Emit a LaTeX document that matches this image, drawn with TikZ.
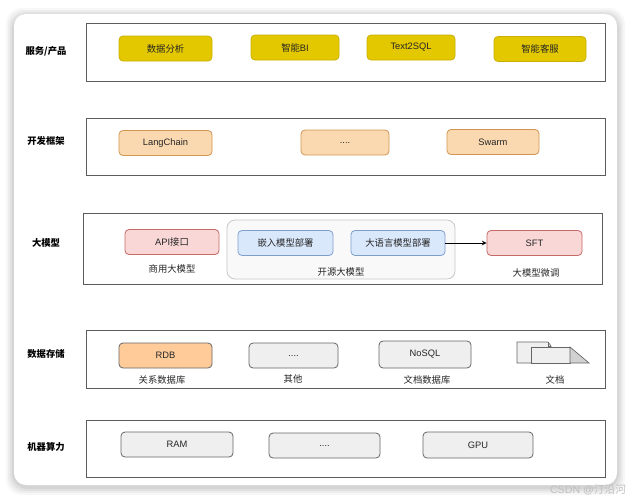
\documentclass[tikz,border=0pt]{standalone}
\usepackage{fontspec}
\setmainfont{Liberation Sans}
\newfontfamily\cjk{Noto Sans CJK SC}
\usepackage{tikz}
\usetikzlibrary{arrows}

\definecolor{cardline}{HTML}{E6E6E6}
\definecolor{layerline}{HTML}{5C5C5C}
\definecolor{yellowfill}{HTML}{E3C800}
\definecolor{yellowline}{HTML}{C9B000}
\definecolor{orangefill}{HTML}{FAD9B0}
\definecolor{orangeline}{HTML}{D19552}
\definecolor{rdbfill}{HTML}{FFCC99}
\definecolor{redfill}{HTML}{F8D7D6}
\definecolor{redline}{HTML}{C46B67}
\definecolor{bluefill}{HTML}{DAE8FC}
\definecolor{blueline}{HTML}{7F9FCB}
\definecolor{grayfill}{HTML}{EFEFEF}
\definecolor{grayline}{HTML}{666666}
\definecolor{groupfill}{HTML}{F9F9F9}
\definecolor{groupline}{HTML}{C8C8C8}

\newcommand{\zh}[1]{{\cjk #1}}

\begin{document}
\begin{tikzpicture}[x=0.75pt, y=-0.75pt, font=\fontsize{7}{8}\selectfont,
		layerbox/.style={draw=layerline, line width=0.75pt, fill=white, minimum height=#1*0.75pt, minimum width=519*0.75pt, inner sep=0pt},
		itembox/.style={rounded corners=3pt, line width=0.6pt, minimum height=25*0.75pt, inner sep=0pt, text=black!85},
		servicebox/.style={itembox, draw=yellowline, fill=yellowfill},
		frameworkbox/.style={itembox, draw=orangeline, fill=orangefill},
		apibox/.style={itembox, draw=redline, fill=redfill},
		deploybox/.style={itembox, draw=blueline, fill=bluefill},
		storebox/.style={itembox, draw=grayline, fill=grayfill},
		layername/.style={font=\fontsize{7}{8}\selectfont\cjk\bfseries},
		caption/.style={font=\fontsize{7}{8}\selectfont\cjk, text=black!85}]
			\useasboundingbox (0,0) rectangle (631,500);

			% card with its shadow
			\foreach \s/\o in {8/0.03,6/0.04,4/0.05,2/0.06}
			{
				\fill [black, opacity=\o, rounded corners=12pt] (14-\s,14-\s+2) rectangle (617+\s,485+\s+2);
			}
			\fill [white, rounded corners=9pt] (14,14) rectangle (617,485);

			% layers
			\node [layerbox=58] (services layer) at (345.5,52) {};
			\node [layerbox=57] (framework layer) at (345.5,146.5) {};
			\node [layerbox=71] (model layer) at (342.5,248.5) {};
			\node [layerbox=58] (storage layer) at (345.5,359) {};
			\node [layerbox=57] (compute layer) at (345.5,448.5) {};

			\node [layername] (services name) at (46,51) {服务/产品};
			\node [layername] (framework name) at (46,141) {开发框架};
			\node [layername] (model name) at (46,243) {大模型};
			\node [layername] (storage name) at (46,354) {数据存储};
			\node [layername] (compute name) at (46,447) {机器算力};

			% services
			\node [servicebox, minimum width=93*0.75pt] (analysis) at (165.5,48.5) {\zh{数据分析}};
			\node [servicebox, minimum width=88*0.75pt] (bi) at (295,47.5) {\zh{智能}BI};
			\node [servicebox, minimum width=88*0.75pt] (text2sql) at (411,47.5) {Text2SQL};
			\node [servicebox, minimum width=92*0.75pt] (service desk) at (540,49) {\zh{智能客服}};

			% frameworks
			\node [frameworkbox, minimum width=93*0.75pt] (langchain) at (165.5,143) {LangChain};
			\node [frameworkbox, minimum width=88*0.75pt] (other framework) at (345,142.5) {....};
			\node [frameworkbox, minimum width=92*0.75pt] (swarm) at (493,142) {Swarm};

			% models
			\node [draw=groupline, fill=groupfill, rounded corners=6pt, line width=0.6pt, minimum width=228*0.75pt, minimum height=59*0.75pt] (open group) at (341,249.5) {};
			\node [apibox, minimum width=94*0.75pt] (api) at (172,242) {API\zh{接口}};
			\node [deploybox, minimum width=95*0.75pt] (embedding) at (285.5,243) {\zh{嵌入模型部署}};
			\node [deploybox, minimum width=94*0.75pt] (llm) at (398,243) {\zh{大语言模型部署}};
			\node [apibox, minimum width=95*0.75pt] (sft) at (534.5,243) {SFT};

			\node [caption] (api caption) at (172,269) {商用大模型};
			\node [caption] (open caption) at (341,272) {开源大模型};
			\node [caption] (sft caption) at (536,273) {大模型微调};

			\draw [-stealth, line width=0.6pt] (llm) -- (sft);

			% storage
			\node [storebox, fill=rdbfill, minimum width=93*0.75pt] (rdb) at (165.5,355.5) {RDB};
			\node [storebox, minimum width=89*0.75pt] (other store) at (293.5,355.5) {....};
			\node [storebox, minimum width=92*0.75pt, minimum height=27*0.75pt] (nosql) at (425,354.5) {NoSQL};

			\begin{scope}[draw=grayline, line width=0.5pt]
				\draw [fill=grayfill] (517,342) -- (548,342) -- (551,346) -- (551,363) -- (517,363) -- cycle;
				\draw (548,342) -- (548,346) -- (551,346);
				\draw [fill=grayfill] (531,347) rectangle (570,363);
				\draw [fill=black!18] (570,347) -- (589,363) -- (570,363) -- cycle;
			\end{scope}
			\coordinate (documents) at (555,367);

			\node [caption] (rdb caption) at (162,380) {关系数据库};
			\node [caption] (other caption) at (293,379) {其他};
			\node [caption] (nosql caption) at (427,380) {文档数据库};
			\node [caption] (documents caption) at (555,380) {文档};

			% compute
			\node [storebox, minimum width=112*0.75pt] (ram) at (177,444.5) {RAM};
			\node [storebox, minimum width=111*0.75pt] (other compute) at (324.5,445.5) {....};
			\node [storebox, minimum width=110*0.75pt, minimum height=26*0.75pt] (gpu) at (478,445) {GPU};

			\node [font=\fontsize{8}{9}\selectfont, text=black!25] (watermark) at (588,490) {CSDN @\zh{汀沿河}};
		\end{tikzpicture}
\end{document}
